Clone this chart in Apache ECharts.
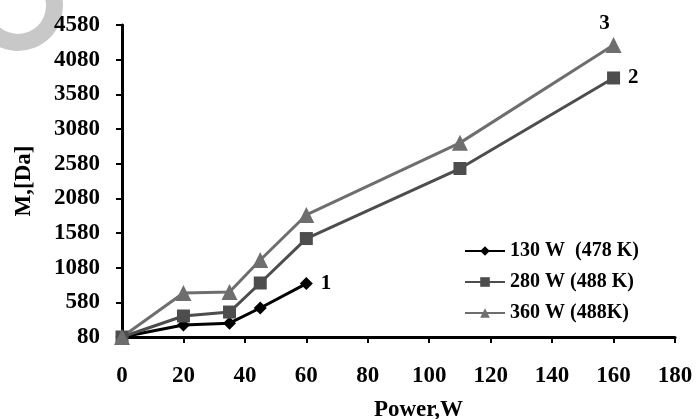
<!DOCTYPE html>
<html>
<head>
<meta charset="utf-8">
<script src="https://cdn.jsdelivr.net/npm/echarts@6/dist/echarts.min.js"></script>
<style>html,body{margin:0;padding:0;background:#fff}#c{width:696px;height:419px}</style>
</head>
<body>
<div id="c"></div>
<script>
const seriesNames = ['130 W  (478 K)', '280 W (488 K)', '360 W (488K)'];
const s1Power = [0, 20, 35, 45, 60];
const s1Mass = [80, 253, 280, 498, 850];
const s2Power = [0, 20, 35, 45, 60, 110, 160];
const s2Mass = [80, 383, 440, 859, 1500, 2510, 3816];
const s3Power = [0, 20, 35, 45, 60, 110, 160];
const s3Mass = [80, 715, 730, 1190, 1840, 2880, 4292];
const endLabels = ['1', '2', '3'];
const xTicks = [0, 180, 20];
const yTicks = [80, 4580, 500];

const FONT = '"Liberation Serif", "Times New Roman", serif';
const pairs = (xs, ys) => xs.map((x, i) => [x, ys[i]]);

function mk(name, data, color, symbol, size, label, labelPos, offset) {
  return {
    name, type: 'line', data, symbol, symbolSize: size,
    lineStyle: { color, width: 3 },
    itemStyle: { color },
    label: {
      show: true, position: labelPos, distance: 8, offset,
      formatter: p => p.dataIndex === data.length - 1 ? label : '',
      fontFamily: FONT, fontWeight: 'bold', fontSize: 21, color: '#000'
    },
    animation: false, z: 3
  };
}

const chart = echarts.init(document.getElementById('c'));
chart.setOption({
  backgroundColor: '#fff',
  animation: false,
  grid: { left: 122, right: 21, top: 25, bottom: 82, containLabel: false, outerBoundsMode: 'none' },
  graphic: [{
    type: 'ring', shape: { cx: 18, cy: 6, r: 45, r0: 28 },
    style: { fill: '#c8c8c8' }, z: 0
  }],
  legend: {
    orient: 'vertical', left: 459, top: 236,
    itemWidth: 40, itemHeight: 12, itemGap: 11,
    textStyle: { fontFamily: FONT, fontWeight: 'bold', fontSize: 20, color: '#000' },
    data: seriesNames
  },
  xAxis: {
    type: 'value', min: xTicks[0], max: xTicks[1], interval: xTicks[2],
    name: 'Power,W', nameLocation: 'middle', nameGap: 62,
    nameTextStyle: { fontFamily: FONT, fontWeight: 'bold', fontSize: 23, color: '#000', padding: [0, 0, 0, 40] },
    axisLine: { lineStyle: { color: '#000', width: 3 } },
    axisTick: { show: true, length: 6, lineStyle: { color: '#000', width: 2 } },
    axisLabel: { margin: 28, fontFamily: FONT, fontWeight: 'bold', fontSize: 23, color: '#000', formatter: v => String(v) },
    splitLine: { show: false }
  },
  yAxis: {
    type: 'value', min: yTicks[0], max: yTicks[1], interval: yTicks[2],
    name: 'M,[Da]', nameLocation: 'middle', nameGap: 86, nameRotate: 90,
    nameTextStyle: { fontFamily: FONT, fontWeight: 'bold', fontSize: 23, color: '#000' },
    axisLine: { show: true, lineStyle: { color: '#000', width: 3 } },
    axisTick: { show: true, length: 6, lineStyle: { color: '#000', width: 2 } },
    axisLabel: { margin: 22, fontFamily: FONT, fontWeight: 'bold', fontSize: 23, color: '#000', formatter: v => String(v) },
    splitLine: { show: false }
  },
  series: [
    mk(seriesNames[0], pairs(s1Power, s1Mass), '#000000', 'diamond', 13, endLabels[0], 'right', [0, 0]),
    mk(seriesNames[1], pairs(s2Power, s2Mass), '#4d4d4d', 'rect', 13, endLabels[1], 'right', [0, 0]),
    mk(seriesNames[2], pairs(s3Power, s3Mass), '#6e6e6e', 'triangle', 16, endLabels[2], 'top', [-9, 5])
  ]
});
</script>
</body>
</html>
